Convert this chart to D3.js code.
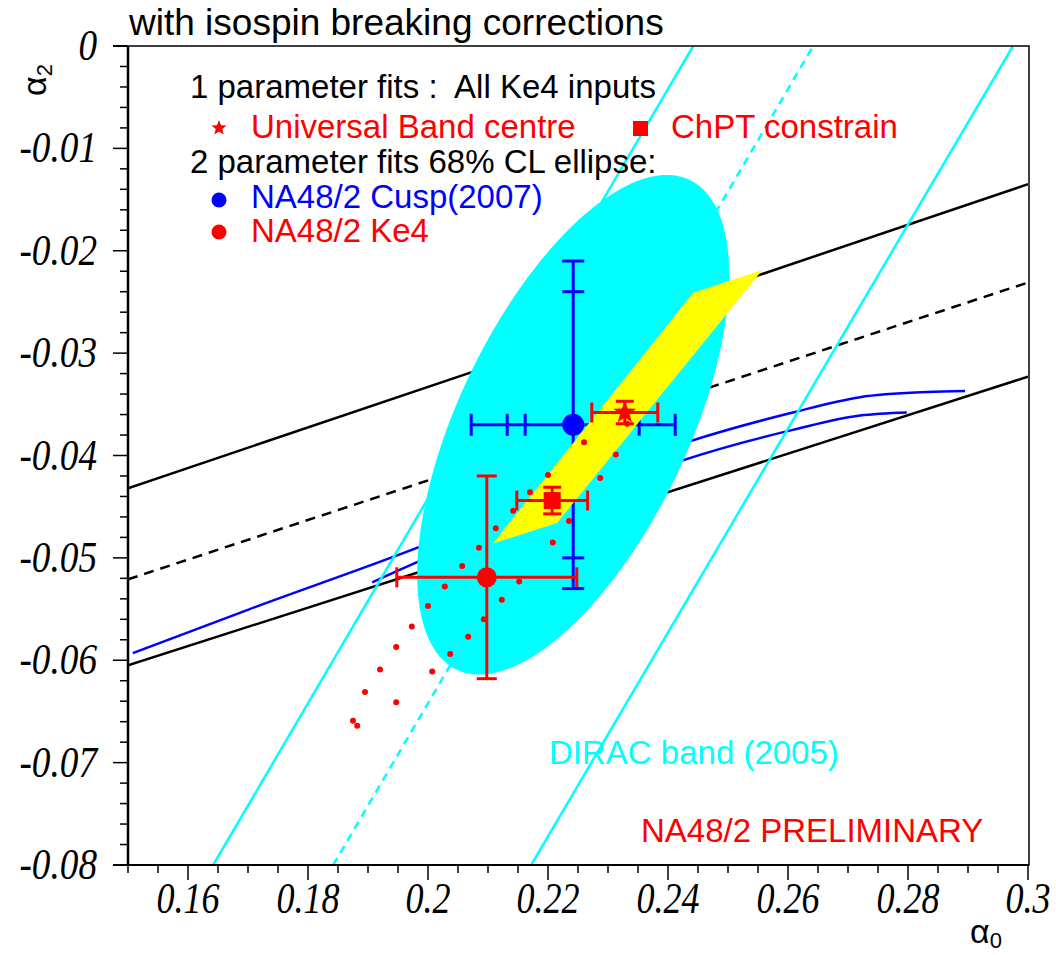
<!DOCTYPE html>
<html><head><meta charset="utf-8">
<script src="https://cdn.jsdelivr.net/npm/d3@7"></script>
<style>body{margin:0;background:#fff}svg{display:block}</style>
</head><body>
<svg id="c" width="1056" height="955"></svg>
<script>
// ---------------- data ----------------
const xDomain = [0.15, 0.30];
const yDomain = [-0.08, 0];
const xTickValues = [0.16, 0.18, 0.20, 0.22, 0.24, 0.26, 0.28, 0.30];
const xTickLabels = ["0.16", "0.18", "0.2", "0.22", "0.24", "0.26", "0.28", "0.3"];
const yTickValues = [0, -0.01, -0.02, -0.03, -0.04, -0.05, -0.06, -0.07, -0.08];
const yTickLabels = ["0", "-0.01", "-0.02", "-0.03", "-0.04", "-0.05", "-0.06", "-0.07", "-0.08"];

// universal band (black) and ChPT lines
const blackUpper = [[0.15, -0.0432], [0.30, -0.0135]];
const blackLower = [[0.15, -0.0605], [0.30, -0.0323]];
const blackDashed = [[0.15, -0.0521], [0.30, -0.0231]];

// blue curves
const blueUpper = [[0.1508, -0.0593], [0.1703, -0.0550], [0.1987, -0.0489], [0.2203, -0.0438],
                   [0.2437, -0.0386], [0.2608, -0.0358], [0.2720, -0.0343], [0.2832, -0.0338], [0.2895, -0.0337]];
const blueLower = [[0.1907, -0.0524], [0.1983, -0.0504], [0.2203, -0.0455], [0.2423, -0.0405],
                   [0.2608, -0.0375], [0.2720, -0.0361], [0.2798, -0.0358]];

// DIRAC band (2005)
const diracLeft = [[0.1642, -0.08], [0.2442, 0]];
const diracCentre = [[0.1842, -0.08], [0.2642, 0]];
const diracRight = [[0.2172, -0.08], [0.2975, 0]];

// Cusp 68% CL ellipse: centre, sigmas, correlation
const ellipseCentre = [0.2242, -0.0370];
const ellipseSigma = [0.0260, 0.0244];
const ellipseRho = 0.60;

// yellow band (Ke4 1-parameter fit band)
const yellowBand = [[0.2108, -0.0486], [0.2215, -0.0466], [0.2557, -0.0219], [0.2442, -0.0241]];

// NA48/2 Cusp(2007) point with error bars
const cuspPoint = [0.2242, -0.0370];
const cuspXErr = [0.008, 0.011, 0.017];
const cuspYErr = [0.013, 0.016];

// NA48/2 Ke4 point
const ke4Point = [0.2098, -0.0519];
const ke4XErr = [0.015];
const ke4YErr = [0.0099];

// ChPT constrain (square)
const chptPoint = [0.2207, -0.0444];
const chptXErr = [0.0059];
const chptYErr = [0.0013];

// Universal band centre (star)
const ubcPoint = [0.2328, -0.0358];
const ubcXErr = [0.0055];
const ubcYErr = [0.0011];

// red dots
const redDots = [[0.2332, -0.0369], [0.2260, -0.0387], [0.2200, -0.0419], [0.2170, -0.0436], [0.2142, -0.0454],
  [0.2113, -0.0471], [0.2085, -0.0490], [0.2057, -0.0508], [0.2028, -0.0528], [0.2000, -0.0547],
  [0.1973, -0.0567], [0.1947, -0.0587], [0.1920, -0.0609], [0.1895, -0.0631], [0.1875, -0.0659],
  [0.1882, -0.0664], [0.2313, -0.0399], [0.2287, -0.0422], [0.2235, -0.0464], [0.2208, -0.0485],
  [0.2152, -0.0523], [0.2123, -0.0541], [0.2093, -0.0560], [0.2067, -0.0577], [0.2037, -0.0594],
  [0.2007, -0.0611], [0.1947, -0.0641]];

// ---------------- drawing ----------------
const svg = d3.select("#c");
const L = 128, R = 1028, T = 46, B = 865;
const x = d3.scaleLinear().domain(xDomain).range([L, R]);
const y = d3.scaleLinear().domain(yDomain).range([B, T]);

svg.append("rect").attr("width", 1056).attr("height", 955).attr("fill", "#fff");
svg.append("defs").append("clipPath").attr("id", "clip")
  .append("rect").attr("x", L).attr("y", T).attr("width", R - L).attr("height", B - T);

const plot = svg.append("g").attr("clip-path", "url(#clip)");
const line = d3.line().x(d => x(d[0])).y(d => y(d[1]));
const curve = d3.line().x(d => x(d[0])).y(d => y(d[1])).curve(d3.curveMonotoneX);

// black lines
plot.append("path").attr("d", line(blackUpper)).attr("stroke", "#000").attr("stroke-width", 2.5).attr("fill", "none");
plot.append("path").attr("d", line(blackLower)).attr("stroke", "#000").attr("stroke-width", 2.5).attr("fill", "none");
plot.append("path").attr("d", line(blackDashed)).attr("stroke", "#000").attr("stroke-width", 2.5)
  .attr("stroke-dasharray", "10,7").attr("fill", "none");
// blue curves
plot.append("path").attr("d", curve(blueUpper)).attr("stroke", "#0000ff").attr("stroke-width", 2.5).attr("fill", "none");
plot.append("path").attr("d", curve(blueLower)).attr("stroke", "#0000ff").attr("stroke-width", 2.5).attr("fill", "none");
// DIRAC lines
plot.append("path").attr("d", line(diracLeft)).attr("stroke", "#00ffff").attr("stroke-width", 2.5).attr("fill", "none");
plot.append("path").attr("d", line(diracRight)).attr("stroke", "#00ffff").attr("stroke-width", 2.5).attr("fill", "none");
plot.append("path").attr("d", line(diracCentre)).attr("stroke", "#00ffff").attr("stroke-width", 2.5)
  .attr("stroke-dasharray", "8,6").attr("fill", "none");

// ellipse
const ellPts = d3.range(0, 361, 2).map(a => {
  const t = a * Math.PI / 180;
  return [ellipseCentre[0] + ellipseSigma[0] * Math.cos(t),
          ellipseCentre[1] + ellipseSigma[1] * (ellipseRho * Math.cos(t) + Math.sqrt(1 - ellipseRho * ellipseRho) * Math.sin(t))];
});
plot.append("path").attr("d", line(ellPts) + "Z").attr("fill", "#00ffff");

// error bar helper
function errBars(g, p, xe, ye, color, sw, capX, capY) {
  const cx = x(p[0]), cy = y(p[1]);
  const xmax = d3.max(xe), ymax = d3.max(ye);
  g.append("line").attr("x1", x(p[0] - xmax)).attr("x2", x(p[0] + xmax)).attr("y1", cy).attr("y2", cy)
    .attr("stroke", color).attr("stroke-width", sw);
  g.append("line").attr("x1", cx).attr("x2", cx).attr("y1", y(p[1] + ymax)).attr("y2", y(p[1] - ymax))
    .attr("stroke", color).attr("stroke-width", sw);
  xe.forEach(e => [-1, 1].forEach(s => {
    const xx = x(p[0] + s * e);
    g.append("line").attr("x1", xx).attr("x2", xx).attr("y1", cy - capX).attr("y2", cy + capX)
      .attr("stroke", color).attr("stroke-width", sw);
  }));
  ye.forEach(e => [-1, 1].forEach(s => {
    const yy = y(p[1] + s * e);
    g.append("line").attr("x1", cx - capY).attr("x2", cx + capY).attr("y1", yy).attr("y2", yy)
      .attr("stroke", color).attr("stroke-width", sw);
  }));
}

// cusp point
errBars(plot, cuspPoint, cuspXErr, cuspYErr, "#0000ff", 3, 11, 11);
plot.append("circle").attr("cx", x(cuspPoint[0])).attr("cy", y(cuspPoint[1])).attr("r", 11).attr("fill", "#0000ff");

// yellow band
plot.append("path").attr("d", line(yellowBand) + "Z").attr("fill", "#ffff00");

// red dots
plot.selectAll("circle.dot").data(redDots).enter().append("circle").attr("class", "dot")
  .attr("cx", d => x(d[0])).attr("cy", d => y(d[1])).attr("r", 3).attr("fill", "#ff0000");

// Ke4 point
errBars(plot, ke4Point, ke4XErr, ke4YErr, "#ff0000", 3, 10, 10);
plot.append("circle").attr("cx", x(ke4Point[0])).attr("cy", y(ke4Point[1])).attr("r", 10).attr("fill", "#ff0000");

// ChPT square
errBars(plot, chptPoint, chptXErr, chptYErr, "#ff0000", 3, 10, 9);
plot.append("rect").attr("x", x(chptPoint[0]) - 8.5).attr("y", y(chptPoint[1]) - 8.5).attr("width", 17).attr("height", 17).attr("fill", "#ff0000");

// star
function starPath(cx, cy, ro, ri) {
  const pts = [];
  for (let i = 0; i < 10; i++) {
    const a = -Math.PI / 2 + i * Math.PI / 5;
    const r = i % 2 === 0 ? ro : ri;
    pts.push([cx + r * Math.cos(a), cy + r * Math.sin(a)]);
  }
  return "M" + pts.map(p => p.join(",")).join("L") + "Z";
}
errBars(plot, ubcPoint, ubcXErr, ubcYErr, "#ff0000", 3, 10, 9);
plot.append("path").attr("d", starPath(x(ubcPoint[0]), y(ubcPoint[1]), 12, 5)).attr("fill", "#ff0000");

// frame
svg.append("rect").attr("x", L).attr("y", T).attr("width", R - L + 1).attr("height", B - T)
  .attr("fill", "none").attr("stroke", "#000").attr("stroke-width", 1.5);
svg.append("line").attr("x1", L).attr("x2", L).attr("y1", T).attr("y2", B).attr("stroke", "#000").attr("stroke-width", 2.5);
svg.append("line").attr("x1", 113).attr("x2", R + 1).attr("y1", B).attr("y2", B).attr("stroke", "#000").attr("stroke-width", 2);
svg.append("line").attr("x1", 113).attr("x2", L).attr("y1", T).attr("y2", T).attr("stroke", "#000").attr("stroke-width", 2);

// axes ticks
const xMinor = d3.range(0, 31).map(i => 0.15 + i * 0.005);
xMinor.forEach(v => {
  const isMajor = xTickValues.some(t => Math.abs(t - v) < 1e-9);
  svg.append("line").attr("x1", x(v)).attr("x2", x(v)).attr("y1", B).attr("y2", B + (isMajor ? 15 : 8))
    .attr("stroke", "#000").attr("stroke-width", 1.5);
});
const yMinor = d3.range(0, 41).map(i => -0.08 + i * 0.002);
yMinor.forEach(v => {
  const isMajor = yTickValues.some(t => Math.abs(t - v) < 1e-9);
  svg.append("line").attr("x1", L).attr("x2", L - (isMajor ? 15 : 8)).attr("y1", y(v)).attr("y2", y(v))
    .attr("stroke", "#000").attr("stroke-width", 1.5);
});

const serif = "'Liberation Serif','Times New Roman',serif";
const sans = "'Liberation Sans',Arial,Helvetica,sans-serif";
xTickValues.forEach((v, i) => {
  svg.append("text").attr("transform", `translate(${x(v)},913) scale(0.95,1.15)`).attr("text-anchor", "middle")
    .attr("font-family", serif).attr("font-style", "italic").attr("font-size", 38).text(xTickLabels[i]);
});
yTickValues.forEach((v, i) => {
  svg.append("text").attr("transform", `translate(97,${y(v) + 14}) scale(0.98,1.15)`).attr("text-anchor", "end")
    .attr("font-family", serif).attr("font-style", "italic").attr("font-size", 38).text(yTickLabels[i]);
});

// axis titles
const yt = svg.append("text").attr("transform", "translate(46,96) rotate(-90)")
  .attr("font-family", sans).attr("font-size", 34);
yt.append("tspan").text("α");
yt.append("tspan").attr("font-size", 22).attr("dy", 6).text("2");
const xt = svg.append("text").attr("x", 970).attr("y", 943)
  .attr("font-family", sans).attr("font-size", 34);
xt.append("tspan").text("α");
xt.append("tspan").attr("font-size", 22).attr("dy", 5).text("0");

// title
svg.append("text").attr("x", 129).attr("y", 35).attr("font-family", sans).attr("font-size", 37)
  .text("with isospin breaking corrections");

// legend
function txt(s, xx, yy, col) {
  svg.append("text").attr("x", xx).attr("y", yy).attr("font-family", sans).attr("font-size", 33)
    .attr("fill", col).attr("xml:space", "preserve").style("white-space", "pre").text(s);
}
txt("1 parameter fits :  All Ke4 inputs", 190, 98, "#000");
svg.append("path").attr("d", starPath(219, 128, 8, 3.4)).attr("fill", "#ff0000");
txt("Universal Band centre", 251, 138, "#ff0000");
svg.append("rect").attr("x", 633).attr("y", 121).attr("width", 15).attr("height", 15).attr("fill", "#ff0000");
txt("ChPT constrain", 671, 138, "#ff0000");
txt("2 parameter fits 68% CL ellipse:", 190, 173, "#000");
svg.append("circle").attr("cx", 219).attr("cy", 200).attr("r", 7.5).attr("fill", "#0000ff");
txt("NA48/2 Cusp(2007)", 251, 208, "#0000ff");
svg.append("circle").attr("cx", 219).attr("cy", 232).attr("r", 7.5).attr("fill", "#ff0000");
txt("NA48/2 Ke4", 251, 242, "#ff0000");

txt("DIRAC band (2005)", 549, 764, "#00ffff");
txt("NA48/2 PRELIMINARY", 641, 842, "#ff0000");
</script>
</body></html>
